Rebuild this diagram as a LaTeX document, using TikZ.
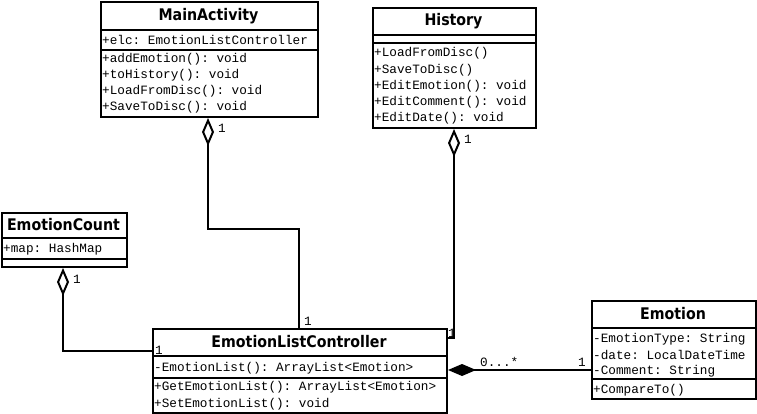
\documentclass[tikz,border=0pt]{standalone}
\usepackage{fontspec}
\setmonofont{Liberation Mono}
\newfontfamily\titlefont{DejaVu Sans}[FakeStretch=0.887]
\usetikzlibrary{arrows.meta}
\begin{document}
\begin{tikzpicture}[x=1pt,y=-1pt,
  classbox/.style={draw, line width=2pt, anchor=north west, inner sep=0pt, fill=white},
  sepline/.style={line width=2pt},
  title/.style={font=\titlefont\bfseries\fontsize{16}{16}\selectfont, inner sep=0pt},
  member/.style={font=\ttfamily\fontsize{12.7}{14}\selectfont, anchor=west, inner sep=0pt},
  mult/.style={font=\ttfamily\fontsize{12.7}{14}\selectfont, anchor=west, inner sep=0pt},
  conn/.style={line width=2pt},
  agg/.style={{Diamond[open,fill=white,length=28pt,width=12pt,line width=2pt]}-},
  comp/.style={{Diamond[length=28pt,width=12pt]}-}
]
\useasboundingbox[fill=white] (0,0) rectangle (757,414);

% MainActivity
\node[classbox, minimum width=217pt, minimum height=115pt] (ma) at (100,1) {};
\draw[sepline] (100,30) -- (317,30);
\draw[sepline] (100,50) -- (317,50);
\node[title] (mat) at (208.5,16) {MainActivity};
\node[member] (ma1) at (102,40) {+elc: EmotionListController};
\node[member] (ma2) at (102,59) {+addEmotion(): void};
\node[member] (ma3) at (102,75) {+toHistory(): void};
\node[member] (ma4) at (102,91) {+LoadFromDisc(): void};
\node[member] (ma5) at (102,107) {+SaveToDisc(): void};

% History
\node[classbox, minimum width=163pt, minimum height=120pt] (hi) at (372,7) {};
\draw[sepline] (372,35) -- (535,35);
\draw[sepline] (372,43) -- (535,43);
\node[title] (hit) at (453.5,21) {History};
\node[member] (hi1) at (374,53) {+LoadFromDisc()};
\node[member] (hi2) at (374,70) {+SaveToDisc()};
\node[member] (hi3) at (374,86) {+EditEmotion(): void};
\node[member] (hi4) at (374,102) {+EditComment(): void};
\node[member] (hi5) at (374,118) {+EditDate(): void};

% EmotionCount
\node[classbox, minimum width=125pt, minimum height=54pt] (ec) at (1,212) {};
\draw[sepline] (1,238) -- (126,238);
\draw[sepline] (1,259) -- (126,259);
\node[title] (ect) at (63.5,225) {EmotionCount};
\node[member] (ec1) at (3,249) {+map: HashMap};

% EmotionListController
\node[classbox, minimum width=294pt, minimum height=84pt] (elc) at (152,328) {};
\draw[sepline] (152,356) -- (446,356);
\draw[sepline] (152,378) -- (446,378);
\node[title] (elct) at (299,342) {EmotionListController};
\node[member] (elc1) at (154,368) {-EmotionList(): ArrayList<Emotion>};
\node[member] (elc2) at (154,387) {+GetEmotionList(): ArrayList<Emotion>};
\node[member] (elc3) at (154,404) {+SetEmotionList(): void};

% Emotion
\node[classbox, minimum width=164pt, minimum height=98pt] (em) at (591,300) {};
\draw[sepline] (591,328) -- (755,328);
\draw[sepline] (591,379) -- (755,379);
\node[title] (emt) at (673,314) {Emotion};
\node[member] (em1) at (593,339) {-EmotionType: String};
\node[member] (em2) at (593,355) {-date: LocalDateTime};
\node[member] (em3) at (593,371) {-Comment: String};
\node[member] (em4) at (593,390) {+CompareTo()};

% Connectors
\draw[conn, agg] ([xshift=108pt]ma.south west) |- (299,229) -- ([xshift=147pt]elc.north west);
\draw[conn, agg] ([xshift=82pt]hi.south west) |- ([yshift=-10pt]elc.north east);
\draw[conn, agg] ([xshift=62pt]ec.south west) |- ([yshift=-23pt]elc.north west);
\draw[conn, comp] ([yshift=-42pt]elc.north east) -- ([yshift=-70pt]em.north west);

% Multiplicities
\node[mult] (m1) at (218,128) {1};
\node[mult] (m2) at (304,321) {1};
\node[mult] (m3) at (464,139) {1};
\node[mult] (m4) at (448,333) {1};
\node[mult] (m5) at (73,279) {1};
\node[mult] (m6) at (155,350) {1};
\node[mult] (m7) at (480,362) {0...*};
\node[mult] (m8) at (578,362) {1};
\end{tikzpicture}
\end{document}
